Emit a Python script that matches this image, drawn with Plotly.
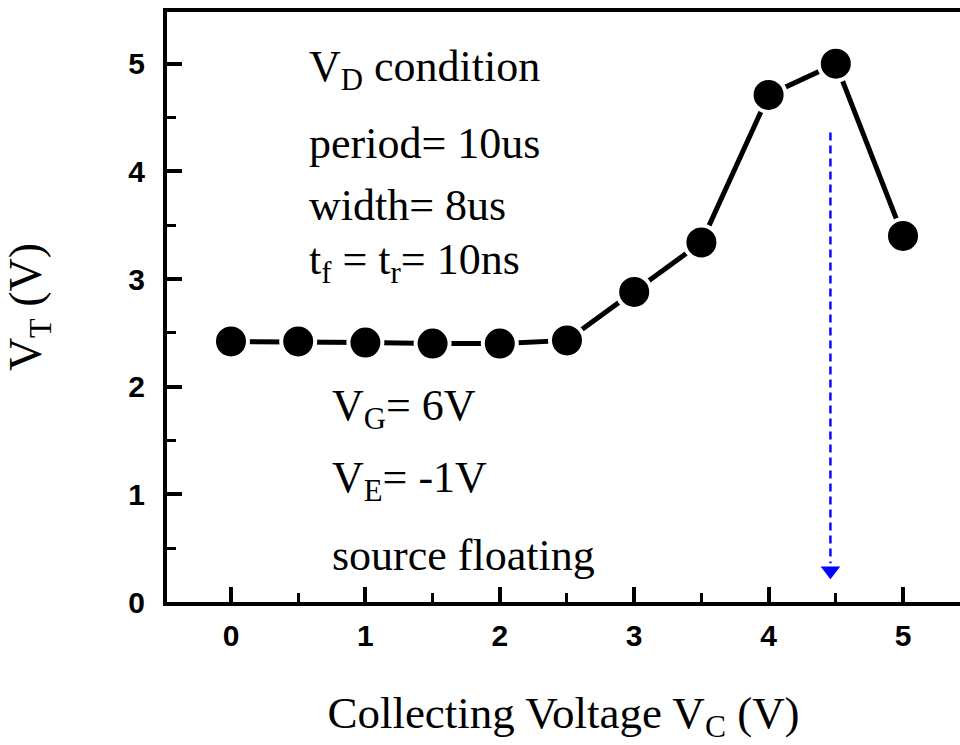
import plotly.graph_objects as go

# Collecting voltage sweep and resulting threshold voltage
vc = [0, 0.5, 1.0, 1.5, 2.0, 2.5, 3.0, 3.5, 4.0, 4.5, 5.0]
vt = [2.42, 2.42, 2.41, 2.40, 2.40, 2.43, 2.88, 3.34, 4.71, 5.00, 3.40]

# Dashed guide arrow marking the optimum collecting voltage
arrow_x = 4.46
arrow_top = 4.36
arrow_tip = 0.29

x_ticks = [0, 1, 2, 3, 4, 5]
y_ticks = [0, 1, 2, 3, 4, 5]

serif = "Liberation Serif"
sans = "Liberation Sans"

fig = go.Figure()

fig.add_trace(go.Scatter(
    x=vc, y=vt, mode="lines+markers",
    line=dict(color="black", width=5),
    marker=dict(size=34, color="black", line=dict(color="white", width=4)),
    showlegend=False, cliponaxis=False,
))

# guide line (dashed) and its arrow head
fig.add_shape(type="line", x0=arrow_x, x1=arrow_x, y0=arrow_top, y1=arrow_tip + 0.07,
              xref="x", yref="y", line=dict(color="#0a0aff", width=2.5, dash="8px,5px"))
fig.add_trace(go.Scatter(
    x=[arrow_x], y=[arrow_tip], mode="markers",
    marker=dict(symbol="triangle-down", size=17, color="#0000ff", line=dict(width=0)),
    showlegend=False, cliponaxis=False,
))

tick_font = dict(family=sans, size=30, color="black")
minor_ticks = dict(ticks="inside", ticklen=9, tickwidth=3, tickcolor="black", dtick=0.5, tick0=0)

fig.update_layout(
    xaxis=dict(
        range=[-0.476, 5.424],
        tickmode="array", tickvals=x_ticks, ticktext=[f"<b>{v}</b>" for v in x_ticks],
        ticks="inside", ticklen=15, tickwidth=3.5, tickcolor="black",
        showline=True, linecolor="black", linewidth=4, mirror=True,
        showgrid=False, zeroline=False,
        tickfont=tick_font, minor=minor_ticks, ticklabelstandoff=4,
        title=dict(text="Collecting Voltage V<sub>C</sub> (V)",
                   font=dict(family=serif, size=45, color="black"), standoff=46),
    ),
    yaxis=dict(
        range=[0, 5.48],
        tickmode="array", tickvals=y_ticks, ticktext=[f"<b>{v}</b>" for v in y_ticks],
        ticks="inside", ticklen=15, tickwidth=3.5, tickcolor="black",
        showline=True, linecolor="black", linewidth=4,
        showgrid=False, zeroline=False,
        tickfont=tick_font, minor=minor_ticks, ticklabelstandoff=12,
        title=dict(text="V<sub>T</sub> (V)",
                   font=dict(family=serif, size=46, color="black"), standoff=74),
    ),
)

upper_lines = ["V<sub>D</sub> condition", "period= 10us", "width= 8us",
               "t<sub>f</sub> = t<sub>r</sub>= 10ns"]
upper_y = [4.95, 4.26, 3.68, 3.15]
lower_lines = ["V<sub>G</sub>= 6V", "V<sub>E</sub>= -1V", "source floating"]
lower_y = [1.8, 1.13, 0.43]

for txt, yy in zip(upper_lines, upper_y):
    fig.add_annotation(x=0.565, y=yy, xref="x", yref="y", text=txt, showarrow=False,
                       xanchor="left", yanchor="middle",
                       font=dict(family=serif, size=44, color="black"))
for txt, yy in zip(lower_lines, lower_y):
    fig.add_annotation(x=0.735, y=yy, xref="x", yref="y", text=txt, showarrow=False,
                       xanchor="left", yanchor="middle",
                       font=dict(family=serif, size=44, color="black"))

fig.update_layout(
    width=960, height=745,
    margin=dict(l=167, r=0, t=12, b=143),
    paper_bgcolor="white", plot_bgcolor="white",
)

fig.write_html("out.html")
